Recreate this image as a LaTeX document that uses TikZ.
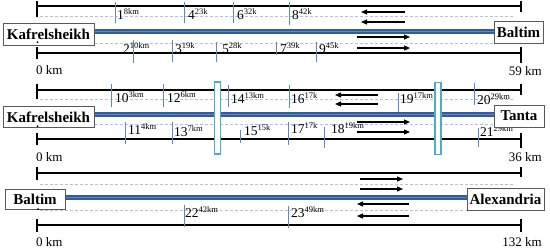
\documentclass[tikz,border=0pt]{standalone}
\usepackage{fontspec}
\setmainfont{Liberation Serif}
\usetikzlibrary{arrows.meta}
\definecolor{road}{RGB}{52,92,152}
\definecolor{roadlight}{RGB}{95,135,195}
\definecolor{tickc}{RGB}{95,135,195}
\definecolor{dotc}{RGB}{175,195,220}
\definecolor{barc}{RGB}{75,172,198}
\newcommand\kmlab[2]{#1\raisebox{4.3pt}{\fontsize{8.5}{8.5}\selectfont #2}}
\begin{document}
\begin{tikzpicture}[x=1pt,y=-1pt,
  city/.style={draw=black!65, fill=white, font=\fontsize{15}{15}\selectfont\bfseries, inner sep=0pt, line width=0.8pt},
  kmtext/.style={font=\fontsize{13}{13}\selectfont, inner sep=0pt},
  tlab/.style={font=\fontsize{13.5}{13.5}\selectfont, inner sep=0pt, anchor=base west},
  tk/.style={draw=tickc, line width=0.9pt},
  bound/.style={line width=1.5pt, black},
  endtick/.style={line width=2.2pt, black},
  guide/.style={draw=dotc, densely dashed, line width=0.5pt},
  roadln/.style={line width=5pt, road},
  roadmid/.style={line width=1pt, roadlight},
  arr/.style={-{Triangle[length=6pt,width=5pt]}, line width=1.2pt},
  gate/.style={draw=barc, line width=1.6pt, fill=white}
]
\useasboundingbox (0,0) rectangle (550,250);

% ================= Panel 1 =================
\coordinate (a1) at (37,6);  \coordinate (a2) at (521,6);
\coordinate (a3) at (37,53); \coordinate (a4) at (521,53);
\draw[bound] (a1) -- (a2);
\draw[bound] (a3) -- (a4);
\draw[endtick] (37,1) -- (37,17);
\draw[endtick] (521,1) -- (521,12);
\draw[endtick] (37,47) -- (37,59);
\draw[endtick] (521,47) -- (521,63);
\draw[guide] (40,16) -- (515,16);
\draw[guide] (40,43) -- (515,43);
\draw[roadln] (37,31) -- (521,31);
\draw[roadmid] (37,31) -- (521,31);
% ticks upper
\draw[tk] (115,2) -- (115,23); \node[tlab] (t1) at (117,19) {\kmlab{1}{8km}};
\draw[tk] (184,2) -- (184,23); \node[tlab] (t4) at (188,19) {\kmlab{4}{23k}};
\draw[tk] (233,2) -- (233,23); \node[tlab] (t6) at (237,19) {\kmlab{6}{32k}};
\draw[tk] (289,2) -- (289,25); \node[tlab] (t8) at (292,19) {\kmlab{8}{42k}};
% ticks lower
\node[tlab] (t2) at (123,53) {\kmlab{2}{10km}}; \draw[tk] (133,40) -- (133,63);
\draw[tk] (172,40) -- (172,62); \node[tlab] (t3) at (175,53) {\kmlab{3}{19k}};
\draw[tk] (216,42) -- (216,62); \node[tlab] (t5) at (222,53) {\kmlab{5}{28k}};
\draw[tk] (276,42) -- (276,55); \node[tlab] (t7) at (280,53) {\kmlab{7}{39k}};
\draw[tk] (316,42) -- (316,62); \node[tlab] (t9) at (319,53) {\kmlab{9}{45k}};
% arrows
\draw[arr] (405,12) -- (361,12);
\draw[arr] (405,22) -- (361,22);
\draw[arr] (357,37) -- (410,37);
\draw[arr] (357,48) -- (410,48);
% cities
\node[city, minimum width=91pt, minimum height=22pt] (kaf1) at (48.5,34) {Kafrelsheikh};
\node[city, minimum width=49pt, minimum height=22pt] (bal1) at (518.5,32) {Baltim};
\fill (37.5,42) circle (1pt);
\node[kmtext, anchor=west] (z1) at (36,70) {0 km};
\node[kmtext, anchor=east] (e1) at (542,71) {59 km};

% ================= Panel 2 =================
\coordinate (b1) at (37,90);  \coordinate (b2) at (521,90);
\coordinate (b3) at (37,139); \coordinate (b4) at (521,139);
\draw[bound] (b1) -- (b2);
\draw[bound] (b3) -- (b4);
\draw[endtick] (37,84) -- (37,99);
\draw[endtick] (521,84) -- (521,95);
\draw[endtick] (37,133) -- (37,145);
\draw[endtick] (521,133) -- (521,148);
\draw[guide] (40,99) -- (515,99);
\draw[guide] (40,124) -- (515,124);
\draw[roadln] (37,114) -- (521,114);
\draw[roadmid] (37,114) -- (521,114);
% ticks upper
\draw[tk] (111,84) -- (111,107); \node[tlab] (t10) at (115,102) {\kmlab{10}{3km}};
\draw[tk] (163,84) -- (163,107); \node[tlab] (t12) at (167,102) {\kmlab{12}{6km}};
\draw[tk] (228,85) -- (228,107); \node[tlab] (t14) at (231,103) {\kmlab{14}{13km}};
\draw[tk] (289,85) -- (289,108); \node[tlab] (t16) at (291,103) {\kmlab{16}{17k}};
\draw[tk] (398,93) -- (398,112); \node[tlab] (t19) at (400,103) {\kmlab{19}{17km}};
\draw[tk] (474,83) -- (474,105); \node[tlab] (t20) at (477,104) {\kmlab{20}{29km}};
% ticks lower
\draw[tk] (125,122) -- (125,144); \node[tlab] (t11) at (128,134) {\kmlab{11}{4km}};
\draw[tk] (172,122) -- (172,144); \node[tlab] (t13) at (174,136) {\kmlab{13}{7km}};
\draw[tk] (240,130) -- (240,143); \node[tlab] (t15) at (244,135) {\kmlab{15}{15k}};
\draw[tk] (288,122) -- (288,145); \node[tlab] (t17) at (291,133) {\kmlab{17}{17k}};
\draw[tk] (324,127) -- (324,148); \node[tlab] (t18) at (331,133) {\kmlab{18}{19km}};
\draw[tk] (478,128) -- (478,147); \node[tlab] (t21) at (480,136) {\kmlab{21}{29km}};
% arrows
\draw[arr] (378,95) -- (335,95);
\draw[arr] (378,104) -- (335,104);
\draw[arr] (357,122) -- (410,122);
\draw[arr] (357,132) -- (410,132);
% gates
\node[gate, minimum width=6pt, minimum height=72pt, inner sep=0pt] (g1) at (217.5,118) {};
\node[gate, minimum width=6pt, minimum height=72pt, inner sep=0pt] (g2) at (438,118.5) {};
% cities
\node[city, minimum width=91pt, minimum height=21pt] (kaf2) at (48.5,117) {Kafrelsheikh};
\node[city, minimum width=50pt, minimum height=22pt] (tan) at (519,116) {Tanta};
\fill (37.5,126) circle (1pt);
\node[kmtext, anchor=west] (z2) at (36,157) {0 km};
\node[kmtext, anchor=east] (e2) at (542,157) {36 km};

% ================= Panel 3 =================
\coordinate (c1) at (37,173);  \coordinate (c2) at (521,173);
\coordinate (c3) at (37,225); \coordinate (c4) at (521,225);
\draw[bound] (c1) -- (c2);
\draw[bound] (c3) -- (c4);
\draw[endtick] (37,167) -- (37,180);
\draw[endtick] (521,167) -- (521,177);
\draw[endtick] (37,219) -- (37,232);
\draw[endtick] (521,219) -- (521,232);
\draw[guide] (40,184) -- (515,184);
\draw[guide] (40,210) -- (515,210);
\draw[roadln] (37,197) -- (521,197);
\draw[roadmid] (37,197) -- (521,197);
% ticks
\draw[tk] (184,205) -- (184,227); \node[tlab] (t22) at (185,217) {\kmlab{22}{42km}};
\draw[tk] (288,206) -- (288,228); \node[tlab] (t23) at (291,217) {\kmlab{23}{49km}};
% arrows
\draw[arr] (360,179) -- (403,179);
\draw[arr] (360,189) -- (403,189);
\draw[arr] (409,204) -- (357,204);
\draw[arr] (409,216) -- (357,216);
% cities
\node[city, minimum width=60pt, minimum height=20pt] (bal2) at (35,199) {Baltim};
\node[city, minimum width=77pt, minimum height=22pt] (alx) at (505.5,199) {Alexandria};
\fill (38,209) circle (1pt);
\node[kmtext, anchor=west] (z3) at (36,242.5) {0 km};
\node[kmtext, anchor=east] (e3) at (542,242.5) {132 km};
\end{tikzpicture}
\end{document}
